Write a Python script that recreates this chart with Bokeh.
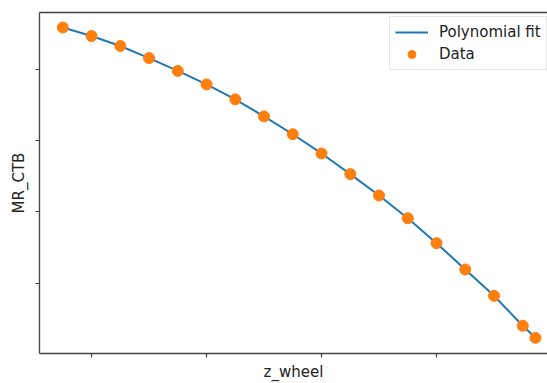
import numpy as np
from bokeh.plotting import figure
from bokeh.models import Range1d, FixedTicker, LinearAxis, Legend, LegendItem, ColumnDataSource
from bokeh.embed import file_html
from bokeh.resources import INLINE

# data (arbitrary units: one x-unit per data step, one y-unit per tick)
z_wheel = [-1, 0, 1, 2, 3, 4, 5, 6, 7, 8, 9, 10, 11, 12, 13, 14, 15, 15.44]
mr_ctb = [3.59, 3.47, 3.33, 3.16, 2.98, 2.79, 2.58, 2.34, 2.09, 1.82,
          1.53, 1.23, 0.91, 0.56, 0.19, -0.18, -0.60, -0.77]
x_ticks = [0, 4, 8, 12]
y_ticks = [0, 1, 2, 3]

src = ColumnDataSource(dict(x=z_wheel, y=mr_ctb))

p = figure(width=547, height=383, output_backend="svg", toolbar_location=None,
           x_range=Range1d(-1.81, 15.86), y_range=Range1d(-0.99, 3.80),
           min_border_left=39, min_border_right=0, min_border_top=12, min_border_bottom=27,
           x_axis_label="z_wheel", y_axis_label="MR_CTB")
p.outline_line_color = None
p.xgrid.visible = False
p.ygrid.visible = False
p.background_fill_color = "white"
p.border_fill_color = "white"

axis_col = "#444444"
for ax, ticks in ((p.xaxis[0], x_ticks), (p.yaxis[0], y_ticks)):
    ax.ticker = FixedTicker(ticks=ticks)
    ax.major_label_overrides = {t: "" for t in ticks}
    ax.major_label_text_font_size = "1px"
    ax.major_label_standoff = 0
    ax.major_tick_out = 4
    ax.major_tick_in = 0
    ax.minor_tick_out = 0
    ax.minor_tick_in = 0
    ax.axis_line_color = axis_col
    ax.axis_line_width = 1.3
    ax.major_tick_line_color = axis_col
    ax.major_tick_line_width = 1.2
    ax.axis_label_text_font = "DejaVu Sans"
    ax.axis_label_text_font_size = "15px"
    ax.axis_label_text_font_style = "normal"
    ax.axis_label_text_color = "#222222"
p.xaxis[0].axis_label_standoff = 5
p.yaxis[0].axis_label_standoff = 8

top = LinearAxis(ticker=FixedTicker(ticks=[]), major_label_text_font_size="1px",
                 major_label_standoff=0, major_tick_out=0, minor_tick_out=0,
                 axis_line_color=axis_col, axis_line_width=1.3)
p.add_layout(top, "above")

line = p.line("x", "y", source=src, line_color="#1f77b4", line_width=2)
pts = p.scatter("x", "y", source=src, size=11, fill_color="#ff7f0e", line_color="#ff7f0e")

legend = Legend(items=[LegendItem(label="Polynomial fit", renderers=[line]),
                       LegendItem(label="Data", renderers=[pts])],
                location=(350, 283))
legend.border_line_color = "#cccccc"
legend.border_line_width = 1
legend.background_fill_alpha = 0.85
legend.label_text_font = "DejaVu Sans"
legend.label_text_font_size = "15px"
legend.label_text_color = "#222222"
legend.glyph_width = 33
legend.glyph_height = 20
legend.label_height = 20
legend.spacing = 2
legend.padding = 5
legend.margin = 0
legend.label_standoff = 11
p.add_layout(legend)

open("out.html", "w").write(file_html(p, INLINE))
